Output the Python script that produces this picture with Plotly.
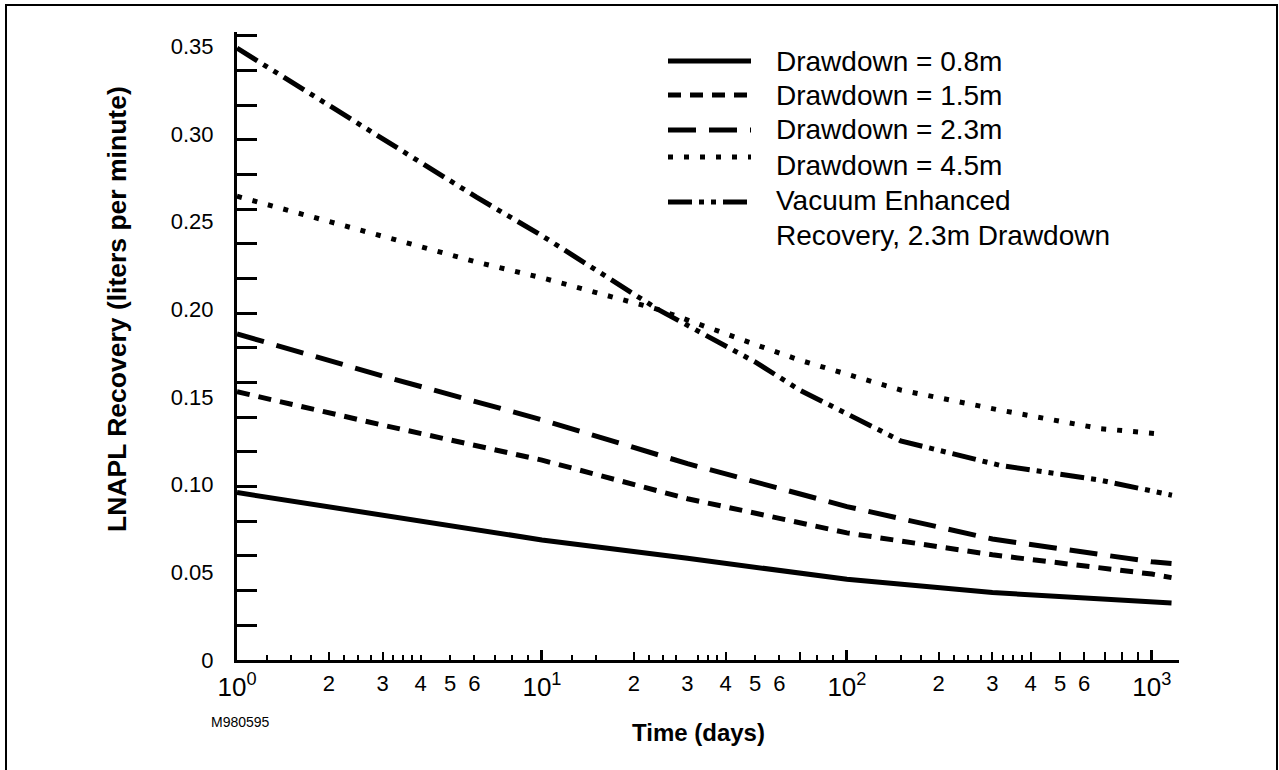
import plotly.graph_objects as go

# ---------------- data ----------------
days = [1, 3, 10, 30, 100, 300, 1000, 1160]
drawdown_08 = [0.0955, 0.0827, 0.0685, 0.058, 0.046, 0.0385, 0.033, 0.0325]
drawdown_15 = [0.153, 0.134, 0.114, 0.092, 0.0725, 0.060, 0.049, 0.047]
drawdown_23 = [0.186, 0.162, 0.137, 0.112, 0.0875, 0.069, 0.056, 0.055]

days_45 = [1, 6.1, 10, 24, 50, 70, 150, 318, 676, 1047]
drawdown_45 = [0.2645, 0.227, 0.218, 0.200, 0.180, 0.171, 0.154, 0.1425, 0.132, 0.129]

days_vac = [1, 6.1, 10, 24, 50, 70, 150, 318, 676, 1164]
vacuum_23 = [0.349, 0.264, 0.242, 0.200, 0.170, 0.154, 0.125, 0.111, 0.1026, 0.094]

series_names = ["Drawdown = 0.8m", "Drawdown = 1.5m", "Drawdown = 2.3m",
                "Drawdown = 4.5m", "Vacuum Enhanced Recovery, 2.3m Drawdown"]

y_label_vals = [0, 0.05, 0.10, 0.15, 0.20, 0.25, 0.30, 0.35]
y_label_text = ["0", "0.05", "0.10", "0.15", "0.20", "0.25", "0.30", "0.35"]
y_tick_step = 0.019784  # spacing of the drawn tick marks on the y axis
y_tick_count = 18

x_decade_vals = [1, 10, 100, 1000]
x_decade_text = ["10<sup>0</sup>", "10<sup>1</sup>", "10<sup>2</sup>", "10<sup>3</sup>"]
x_digit_vals = [2, 3, 4, 5, 6, 20, 30, 40, 50, 60, 200, 300, 400, 500, 600]
x_digit_text = ["2", "3", "4", "5", "6"] * 3
x_small_ticks = [1.25, 1.5, 1.75, 2.25, 2.5, 2.75, 3.25, 3.5, 3.75, 4, 5, 6, 7, 8, 9,
                 12.5, 15, 22.5, 25, 27.5, 32.5, 35, 37.5, 50, 60, 80, 90,
                 125, 150, 175, 225, 250, 275, 325, 350, 375]
x_medium_ticks = [2, 3, 20, 40, 70, 200, 300, 400, 500, 600, 700, 800, 900]
x_major_ticks = [1, 10, 100, 1000]

legend_texts = ["Drawdown = 0.8m", "Drawdown = 1.5m", "Drawdown = 2.3m",
                "Drawdown = 4.5m", "Vacuum Enhanced", "Recovery, 2.3m Drawdown"]

# ---------------- styles ----------------
FONT = "Liberation Sans, Arial, Helvetica, sans-serif"
styles = [
    dict(color="black", width=5, dash="solid"),
    dict(color="black", width=5, dash="13px,9px"),
    dict(color="black", width=5, dash="28px,13px"),
    dict(color="black", width=5, dash="5px,11px"),
    dict(color="black", width=5, dash="24px,7px,5px,7px,5px,7px"),
]

XR = [0, 3.089]
YR = [0, 0.3582]

W, H = 1279, 770
PL, PR, PT, PB = 237, 1179, 32, 660   # plot area in pixels

def px(x):
    return (x - PL) / (PR - PL)

def py(y):
    return (PB - y) / (PB - PT)

fig = go.Figure()
xs = [days, days, days, days_45, days_vac]
ys = [drawdown_08, drawdown_15, drawdown_23, drawdown_45, vacuum_23]
for x, y, st, nm in zip(xs, ys, styles, series_names):
    fig.add_trace(go.Scatter(x=x, y=y, mode="lines", line=st, name=nm,
                             showlegend=False, hoverinfo="skip"))

# empty traces to bind the tick-only overlay axes
for xa in ["x2", "x3", "x4", "x5"]:
    fig.add_trace(go.Scatter(x=[], y=[], xaxis=xa, yaxis="y2", showlegend=False,
                             hoverinfo="skip"))

overlay = dict(type="log", range=XR, overlaying="x", anchor="y", side="bottom",
               showline=False, showgrid=False, zeroline=False, tickcolor="black",
               tickmode="array")

fig.update_layout(
    width=W, height=H,
    paper_bgcolor="white", plot_bgcolor="white",
    margin=dict(l=PL, r=W - PR, t=PT, b=H - PB),
    font=dict(family=FONT, color="black", size=22),
    # decade labels (10^n), larger type
    xaxis=dict(type="log", range=XR, showline=True, linewidth=3, linecolor="black",
               showgrid=False, zeroline=False, ticks="", tickmode="array",
               tickvals=x_decade_vals, ticktext=x_decade_text,
               tickfont=dict(size=26), ticklabelstandoff=2),
    # small tick marks
    xaxis2=dict(tickvals=x_small_ticks, ticks="inside", ticklen=5, tickwidth=1.5,
                showticklabels=False, **overlay),
    # medium tick marks
    xaxis3=dict(tickvals=x_medium_ticks, ticks="inside", ticklen=8, tickwidth=2,
                showticklabels=False, **overlay),
    # decade tick marks
    xaxis4=dict(tickvals=x_major_ticks, ticks="inside", ticklen=10, tickwidth=2.5,
                showticklabels=False, **overlay),
    # digit labels 2..6
    xaxis5=dict(tickvals=x_digit_vals, ticktext=x_digit_text, ticks="",
                showticklabels=True, tickfont=dict(size=22), ticklabelstandoff=8,
                **overlay),
    yaxis=dict(range=YR, showline=True, linewidth=3, linecolor="black",
               showgrid=False, zeroline=False, ticks="", tickmode="array",
               tickvals=y_label_vals, ticktext=y_label_text,
               tickfont=dict(size=22), ticklabelstandoff=16),
    yaxis2=dict(range=YR, overlaying="y", anchor="x", side="left",
                tickmode="array",
                tickvals=[k * y_tick_step for k in range(1, y_tick_count + 1)],
                ticks="inside", ticklen=20, tickwidth=2.5, tickcolor="black",
                showline=False, showgrid=False, zeroline=False, showticklabels=False),
)

shapes = []
# outer frame (left, top, right; bottom runs off the page)
shapes.append(dict(type="path", xref="paper", yref="paper",
                   path=f"M {px(6)} {py(800)} L {px(6)} {py(5)} L {px(1277)} {py(5)} L {px(1277)} {py(800)}",
                   line=dict(color="black", width=2)))

# manual legend keys
legend_rows_y = [61, 95, 130, 157, 202]
for st, yy in zip(styles, legend_rows_y):
    shapes.append(dict(type="line", xref="paper", yref="paper",
                       x0=px(668), x1=px(751), y0=py(yy), y1=py(yy),
                       line=dict(color="black", width=st["width"], dash=st["dash"])))
fig.update_layout(shapes=shapes)

annotations = []
legend_text_y = [62, 96, 130, 165, 200, 235]
for t, yy in zip(legend_texts, legend_text_y):
    annotations.append(dict(text=t, xref="paper", yref="paper", x=px(774), y=py(yy),
                            xanchor="left", yanchor="middle", showarrow=False,
                            font=dict(size=28, family=FONT)))

annotations.append(dict(text="<b>LNAPL Recovery (liters per minute)</b>", xref="paper", yref="paper",
                        x=px(117), y=py(309), textangle=-90, showarrow=False,
                        xanchor="center", yanchor="middle", font=dict(size=26.5, family=FONT)))
annotations.append(dict(text="<b>Time (days)</b>", xref="paper", yref="paper",
                        x=px(698), y=py(732), showarrow=False,
                        xanchor="center", yanchor="middle", font=dict(size=24, family=FONT)))
annotations.append(dict(text="M980595", xref="paper", yref="paper",
                        x=px(240), y=py(722), showarrow=False,
                        xanchor="center", yanchor="middle", font=dict(size=14, family=FONT)))
fig.update_layout(annotations=annotations)

# remove the browser's default 8px body margin so the figure sits at the page origin
fig.write_html("out.html", config={"displayModeBar": False},
               post_script="document.body.style.margin='0px';")
